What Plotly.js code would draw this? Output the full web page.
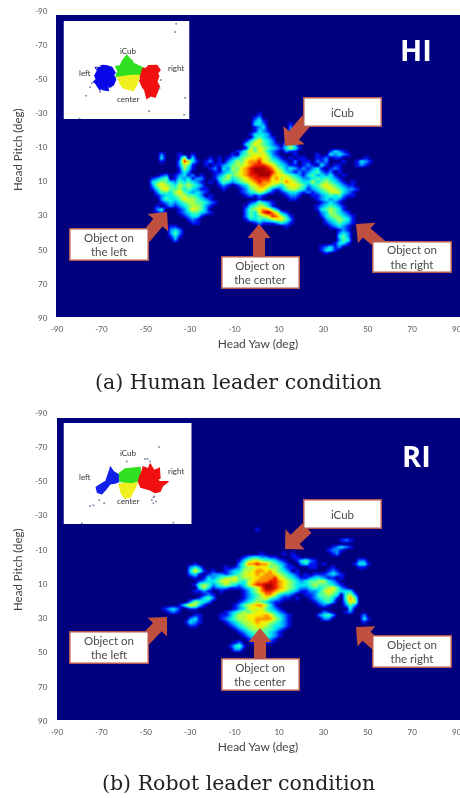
<!DOCTYPE html>
<html><head><meta charset="utf-8">
<script src="https://cdn.plot.ly/plotly-3.0.1.min.js"></script>
<style>html,body{margin:0;padding:0;background:#fff}#plot{width:460px;height:798px;filter:blur(0.5px)}</style>
</head><body><div id="plot"></div>
<script>
// Axis ticks
const tickValues = [-90,-70,-50,-30,-10,10,30,50,70,90];
const tickLabelsX = ['-90','-70','-50','-30','-10','10','30','50','70','90'];
const tickLabelsY = tickLabelsX;
// Heatmap grids, 2 deg steps
const humanYaw = Array.from({length:56},(_,c)=>-57+2*c);
const humanPitch = Array.from({length:44},(_,r)=>-34+2*r);
const robotYaw = Array.from({length:56},(_,c)=>-58+2*c);
const robotPitch = Array.from({length:44},(_,r)=>-32+2*r);
const humanLeaderRows = [
"0000000000 0000000000 0000000000 0000000000 0000000000 000000",
"0000000000 0000000000 0000000000 0000000000 0000000000 000000",
"0000000000 0000000000 0000000001 0000000000 0000000000 000000",
"0000000000 0000000000 0000000012 0000000000 0000000000 000000",
"0000000000 0000000000 0000000023 1000000000 0000000000 000000",
"0000000000 0000000000 0000000033 2000001000 0000000000 000000",
"0000000000 0000000000 0000000012 3000002000 0000000000 000000",
"0000000000 0000000000 0000000013 2100002000 0000000000 000000",
"0000000000 0000000000 0000000133 3200000000 0000000000 000000",
"0000000000 0000000000 0000000034 3210000000 0000000000 000000",
"0000000000 0000000000 0000001356 4320000000 0000000000 000000",
"0000000000 0000000000 0000003465 4321034200 0000000000 000000",
"0000000000 0000000000 0000001546 5432135310 0000000000 000000",
"0000000000 0000000000 0000124646 5321021100 0000013210 000000",
"0000000200 0100100000 0001034565 6421000100 0010032321 000000",
"0000000300 0160300010 1012345667 6532101011 0011201100 000100",
"0000000100 0286310120 1023546778 6543210201 1021200010 013210",
"0000000000 0254100101 1234556788 8764321101 2103101100 012100",
"0000000000 0153100012 0325467899 9875423212 1231012100 000000",
"0000000000 0132000001 1234567899 9986532121 2342120100 000000",
"0000000120 1231201001 2354567889 9976654321 3423231010 000000",
"0000012340 1323122001 3453456788 8867565432 2343432100 000000",
"0000034543 2434321010 2432345678 7766576543 3534543210 100000",
"0000025654 3545432000 1210123567 7654356654 2345654321 100000",
"0000013564 4534321100 0100012456 6421245543 1234565432 210000",
"0000002443 5643232100 0000012345 4210123321 2123456532 100000",
"0000001233 4554432010 0000001212 1000012210 0112343421 100000",
"0000000243 3465543210 0000000001 0000001100 0012323210 000000",
"0000000123 2345544321 0000000124 3210000000 0001232100 000000",
"0000001012 1234554210 0000001345 5310000000 0012343210 000000",
"0000002300 0124654200 0000002456 7642000000 0013454310 000000",
"0000001200 0123443210 0000002436 8975210000 0002354321 000000",
"0000000000 0012331000 0000002434 5687531000 0001345432 100000",
"0000000000 0001210000 0000001334 3456642000 0000234543 100000",
"0000000000 0000110000 0000000012 1112321000 0000123432 100000",
"0000000001 1000000000 0000000001 0000010000 0000012321 000000",
"0000000002 3200000000 0000000000 0000000000 0000000121 000000",
"0000000002 4200000000 0000000000 0000000000 0000000232 000000",
"0000000001 3100000000 0000000000 0000000000 0000000342 000000",
"0000000000 2000000000 0000000000 0000000000 0000000243 000000",
"0000000000 0000000000 0000000000 0000000000 0000001331 000000",
"0000000000 0000000000 0000000000 0000000000 0001231200 000000",
"0000000000 0000000000 0000000000 0000000000 0001331000 000000",
"0000000000 0000000000 0000000000 0000000000 0000100000 000000"];
const robotLeaderRows = [
"0000000000 0000000000 0000000000 0000000000 0000000000 000000",
"0000000000 0000000000 0000000000 0000000000 0000000000 000000",
"0000000000 0000000000 0000000000 0000000000 0000000000 000000",
"0000000000 0000000000 0000000000 0000000000 0000000000 000000",
"0000000000 0000000000 0000000000 0000000000 0000000000 000000",
"0000000000 0000000000 0000000001 0000000000 0000000000 000000",
"0000000000 0000000000 0000000000 0000000000 0000000000 000000",
"0000000000 0000000000 0000000000 0000000000 0000000000 000000",
"0000000000 0000000000 0000000000 0000000000 0000000012 100000",
"0000000000 0000000000 0000000000 0000000000 0000000000 000000",
"0000000000 0000000000 0000000000 0000000000 0000001232 100000",
"0000000000 0000000000 0000000000 0000000000 0000012210 000000",
"0000000000 0000000000 0000000000 1000010100 0000001200 000000",
"0000000000 0000000000 0000001233 2211000110 0000000000 000000",
"0000000000 0000000000 0000013566 5443210013 4210000000 002200",
"0000000000 0000010000 0000024778 7754321002 3110100000 013310",
"0000000000 0000232000 0010124556 6645421100 0110001000 001100",
"0000000000 0000364101 0012335567 7675432010 0000012100 000000",
"0000000000 0000231012 2212345667 6776543210 1011123210 000000",
"0000000000 0000010132 3455645566 7778654321 1233211010 000000",
"0000000000 0000001233 4565543567 7788765432 3445532100 000000",
"0000000000 0000014542 3454323578 8998765433 3454443210 000000",
"0000000000 0000003531 2221112345 7998765432 2343456421 000000",
"0000000000 0000011210 0100001245 7887654321 1223565433 300000",
"0000000000 0000000121 0000001234 5775322100 1124454304 520000",
"0000000000 0000001342 0000001234 5643211010 0123443104 740000",
"0000000000 0000254320 0000012345 4321100000 0012342003 650000",
"0000000000 0024653100 0000124567 7531000000 0001210002 420000",
"0000000012 3200110000 0000123565 6432100000 0000000000 300000",
"0000000001 2100000000 0012345456 6543210000 0000210001 200000",
"0000000000 0000011000 0112455666 6764321000 0002342000 000200",
"0000000000 0000231000 0123455667 7775421000 0000220000 000310",
"0000000000 0001321000 0012345567 6654321000 0000000000 000100",
"0000000000 0000110000 0001234556 6543321000 0000000000 000000",
"0000000000 0000000000 0000123455 5443210000 0000000000 000000",
"0000000000 0000000000 0000012344 4432100000 0000000000 000000",
"0000000000 0000000000 0000001234 3432100000 0000000000 000000",
"0000000000 0000000000 0000000123 3321000000 0000000000 000000",
"0000000000 0000000000 0000120012 2110000000 0000000000 000000",
"0000000000 0000000000 0001341000 0000000000 0000000000 000000",
"0000000000 0000000000 0000220000 0000000000 0000000000 000000",
"0000000000 0000000000 0000000000 0000000000 0000000000 000000",
"0000000000 0000000000 0000000000 0000000000 0000000000 000000",
"0000000000 0000000000 0000000000 0000000000 0000000000 000000"];

// Inset clusters (inset image units)
const humanBlueX=[283,292,285,300,305,318,335,345,340,347,340,330,322,325,310,298,300,286,280,286],
      humanBlueY=[228,212,202,203,196,197,202,218,226,238,255,262,260,272,270,264,272,250,246,240];
const humanGreenX=[345,360,368,372,380,388,395,400,415,430,425,420,395,370,347,352],
      humanGreenY=[200,197,180,175,165,175,180,190,198,204,215,224,224,230,230,215];
const humanYellowX=[350,395,418,412,400,385,370,358],
      humanYellowY=[232,226,226,250,272,268,265,250];
const humanRedX=[420,428,438,445,470,480,472,476,470,478,472,465,452,440,434,425,418],
      humanRedY=[232,205,205,197,196,210,220,228,245,260,275,292,288,296,272,258,240];
const humanSpecksX=[270,258,525,528,555,447,275,300,238,552,290,300,478,482],
      humanSpecksY=[262,288,95,70,294,334,250,276,357,345,205,198,265,240];
const robotBlueX=[330,340,356,356,345,330,318,305,292,288,295,315],
      robotBlueY=[200,215,225,245,250,252,268,282,278,262,258,245];
const robotGreenX=[356,375,395,420,422,410,395,375,358],
      robotGreenY=[222,207,205,203,235,245,250,248,245];
const robotYellowX=[355,372,395,412,402,390,375,362],
      robotYellowY=[255,250,252,248,272,292,295,280];
const robotRedX=[428,445,450,462,478,480,472,478,505,488,480,465,450,422,415,420],
      robotRedY=[200,207,192,212,205,235,240,245,245,258,275,278,270,262,245,225];
const robotSpecksX=[435,442,450,460,455,463,460,468,297,280,270,312,380,477,245,520],
      robotSpecksY=[178,178,185,292,300,290,310,305,300,316,318,310,185,142,370,368];

const jetScale=[[0,'#00007f'],[1/9,'#0010f5'],[2/9,'#0090ff'],[3/9,'#00f0f0'],[4/9,'#50ffa0'],[5/9,'#b0ff40'],[6/9,'#f8f000'],[7/9,'#ff9000'],[8/9,'#f01800'],[1,'#a80000']];
const W=460,H=798;
const X=p=>p/W, Y=p=>1-p/H;
const toZ=rows=>rows.map(s=>s.replace(/ /g,'').split('').map(Number));
const sansFont='Lato, "Open Sans", sans-serif';

function arrow(tx,ty,hx,hy,sw,hw,hl){
  const d=Math.hypot(hx-tx,hy-ty),ux=(hx-tx)/d,uy=(hy-ty)/d,nx=-uy,ny=ux;
  const bx=hx-ux*hl,by=hy-uy*hl;
  const pts=[[tx+nx*sw/2,ty+ny*sw/2],[bx+nx*sw/2,by+ny*sw/2],[bx+nx*hw/2,by+ny*hw/2],[hx,hy],[bx-nx*hw/2,by-ny*hw/2],[bx-nx*sw/2,by-ny*sw/2],[tx-nx*sw/2,ty-ny*sw/2]];
  return {type:'path',xref:'paper',yref:'paper',layer:'above',line:{width:0},fillcolor:'#bf4f3f',
    path:'M'+pts.map(p=>X(p[0]).toFixed(5)+' '+Y(p[1]).toFixed(5)).join('L')+'Z'};
}
function navy(x0,y0,x1,y1){return {type:'rect',xref:'paper',yref:'paper',layer:'below',line:{width:0},fillcolor:'#00007f',x0:X(x0),x1:X(x1),y0:Y(y1),y1:Y(y0)};}
function box(cx,cy,w,h,text){return {xref:'paper',yref:'paper',x:X(cx),y:Y(cy),xanchor:'center',yanchor:'middle',showarrow:false,text,width:w,height:h,align:'center',valign:'middle',bgcolor:'#fff',bordercolor:'#b5584f',borderwidth:1.5,borderpad:0,font:{family:sansFont,size:11.5,color:'#4a4a4a'}};}
function label(cx,cy,text,size,color,extra){return Object.assign({xref:'paper',yref:'paper',x:X(cx),y:Y(cy),xanchor:'center',yanchor:'middle',showarrow:false,text,font:{family:sansFont,size,color}},extra||{});}

function insetTraces(xa,ya,rng,cl){
  const t=[{x:[rng[0],rng[1],rng[1],rng[0]],y:[rng[2],rng[2],rng[3],rng[3]],mode:'none',type:'scatter',fill:'toself',fillcolor:'#fff',xaxis:xa,yaxis:ya,hoverinfo:'skip'}];
  cl.blob.forEach(b=>t.push({x:b[0],y:b[1],type:'scatter',mode:'lines',fill:'toself',fillcolor:b[2],line:{color:b[2],width:1.2},xaxis:xa,yaxis:ya,hoverinfo:'skip'}));
  t.push({x:cl.sx,y:cl.sy,type:'scatter',mode:'markers',marker:{size:2,color:'#8888aa'},xaxis:xa,yaxis:ya,hoverinfo:'skip'});
  return t;
}
const hm=(xs,ys,z,xa,ya)=>({type:'heatmap',x:xs,y:ys,z,zmin:0,zmax:9,colorscale:jetScale,showscale:false,zsmooth:'best',xaxis:xa,yaxis:ya,hoverinfo:'skip'});

const data=[hm(humanYaw,humanPitch,toZ(humanLeaderRows),'x','y'),hm(robotYaw,robotPitch,toZ(robotLeaderRows),'x2','y2')]
 .concat(insetTraces('x3','y3',[190,568,62,358],{blob:[[humanBlueX,humanBlueY,'#0808e8'],[humanGreenX,humanGreenY,'#30e020'],[humanYellowX,humanYellowY,'#f0f020'],[humanRedX,humanRedY,'#f01010']],sx:humanSpecksX,sy:humanSpecksY}))
 .concat(insetTraces('x4','y4',[190,575,70,372],{blob:[[robotBlueX,robotBlueY,'#1020e8'],[robotGreenX,robotGreenY,'#30e020'],[robotYellowX,robotYellowY,'#f0f020'],[robotRedX,robotRedY,'#f01010']],sx:robotSpecksX,sy:robotSpecksY}));

const xAxis=()=>({domain:[X(56),X(460)],range:[-90.45,91.5],tickvals:tickValues,ticktext:tickLabelsX,ticklen:3,tickcolor:'rgba(0,0,0,0)',tickangle:0,tickfont:{family:sansFont,size:8,color:'#555'},showgrid:false,zeroline:false,showline:false,fixedrange:true,
  title:{text:'Head Yaw (deg)',font:{family:sansFont,size:12,color:'#444'},standoff:7}});
const yAxis=(top,bot)=>({domain:[Y(bot),Y(top)],range:[90,-90],tickvals:tickValues,ticktext:tickLabelsY,ticklen:6,tickcolor:'rgba(0,0,0,0)',tickfont:{family:sansFont,size:8,color:'#555'},showgrid:false,zeroline:false,showline:false,fixedrange:true});
const hidden=(d,r)=>({domain:d,range:r,visible:false,fixedrange:true});

const layout={width:W,height:H,margin:{l:0,r:0,t:0,b:0},paper_bgcolor:'#fff',plot_bgcolor:'rgba(0,0,0,0)',showlegend:false,
 xaxis:Object.assign(xAxis(),{anchor:'y'}),yaxis:Object.assign(yAxis(11,318),{anchor:'x'}),
 xaxis2:Object.assign(xAxis(),{anchor:'y2'}),yaxis2:Object.assign(yAxis(413,721),{anchor:'x2'}),
 xaxis3:Object.assign(hidden([X(63.5),X(189.5)],[190,568]),{anchor:'y3'}),yaxis3:Object.assign(hidden([Y(119),Y(21)],[358,62]),{anchor:'x3'}),
 xaxis4:Object.assign(hidden([X(63.5),X(191.7)],[190,575]),{anchor:'y4'}),yaxis4:Object.assign(hidden([Y(524),Y(423)],[372,70]),{anchor:'x4'}),
 shapes:[navy(56,15,460,317),navy(57,418,460,720),
  arrow(307,120,285,146,13,28,14),arrow(145,238,167,212,12,27,14),arrow(259,258,259,224,12,23,14),arrow(382,246,356,224,12,27,14),
  arrow(307,528,285,549,13,28,14),arrow(145,640,167,617,12,27,14),arrow(260,660,260,628,12,23,14),arrow(382,650,356,627,12,27,14)],
 annotations:[
  box(342,111.5,76,27,'iCub'),box(108.5,244,77,30,'Object on<br>the left'),box(260,273,76,30,'Object on<br>the center'),box(411.5,257,77,29,'Object on<br>the right'),
  box(342,514,76,27,'iCub'),box(108.5,647,77,30,'Object on<br>the left'),box(260,674,76,30,'Object on<br>the center'),box(412,651,77,30,'Object on<br>the right'),
  label(416,50,'<b>HI</b>',30,'#fff',{font:{family:'"Open Sans", sans-serif',size:29,color:'#fff'}}),
  label(416,455,'<b>RI</b>',30,'#fff',{font:{family:'"Open Sans", sans-serif',size:29,color:'#fff'}}),
  label(128,51,'iCub',8,'#333'),label(85,73,'left',8,'#333'),label(176,68,'right',8,'#333'),label(128,99,'center',8,'#333'),
  label(128,453,'iCub',8,'#333'),label(85,477,'left',8,'#333'),label(176,471,'right',8,'#333'),label(128,501,'center',8,'#333'),
  label(457,329,'90',8,'#555'),label(457,732,'90',8,'#555'),
  label(17,150,'Head Pitch (deg)',11.5,'#444',{textangle:-90}),
  label(17,570,'Head Pitch (deg)',11.5,'#444',{textangle:-90}),
  label(238,382,'(a) Human leader condition',20.5,'#222',{font:{family:'"DejaVu Serif", serif',size:20.5,color:'#222'}}),
  label(238,783,'(b) Robot leader condition',20.5,'#222',{font:{family:'"DejaVu Serif", serif',size:20.5,color:'#222'}})
 ]};
Plotly.newPlot('plot',data,layout,{displayModeBar:false,staticPlot:true});
</script></body></html>
